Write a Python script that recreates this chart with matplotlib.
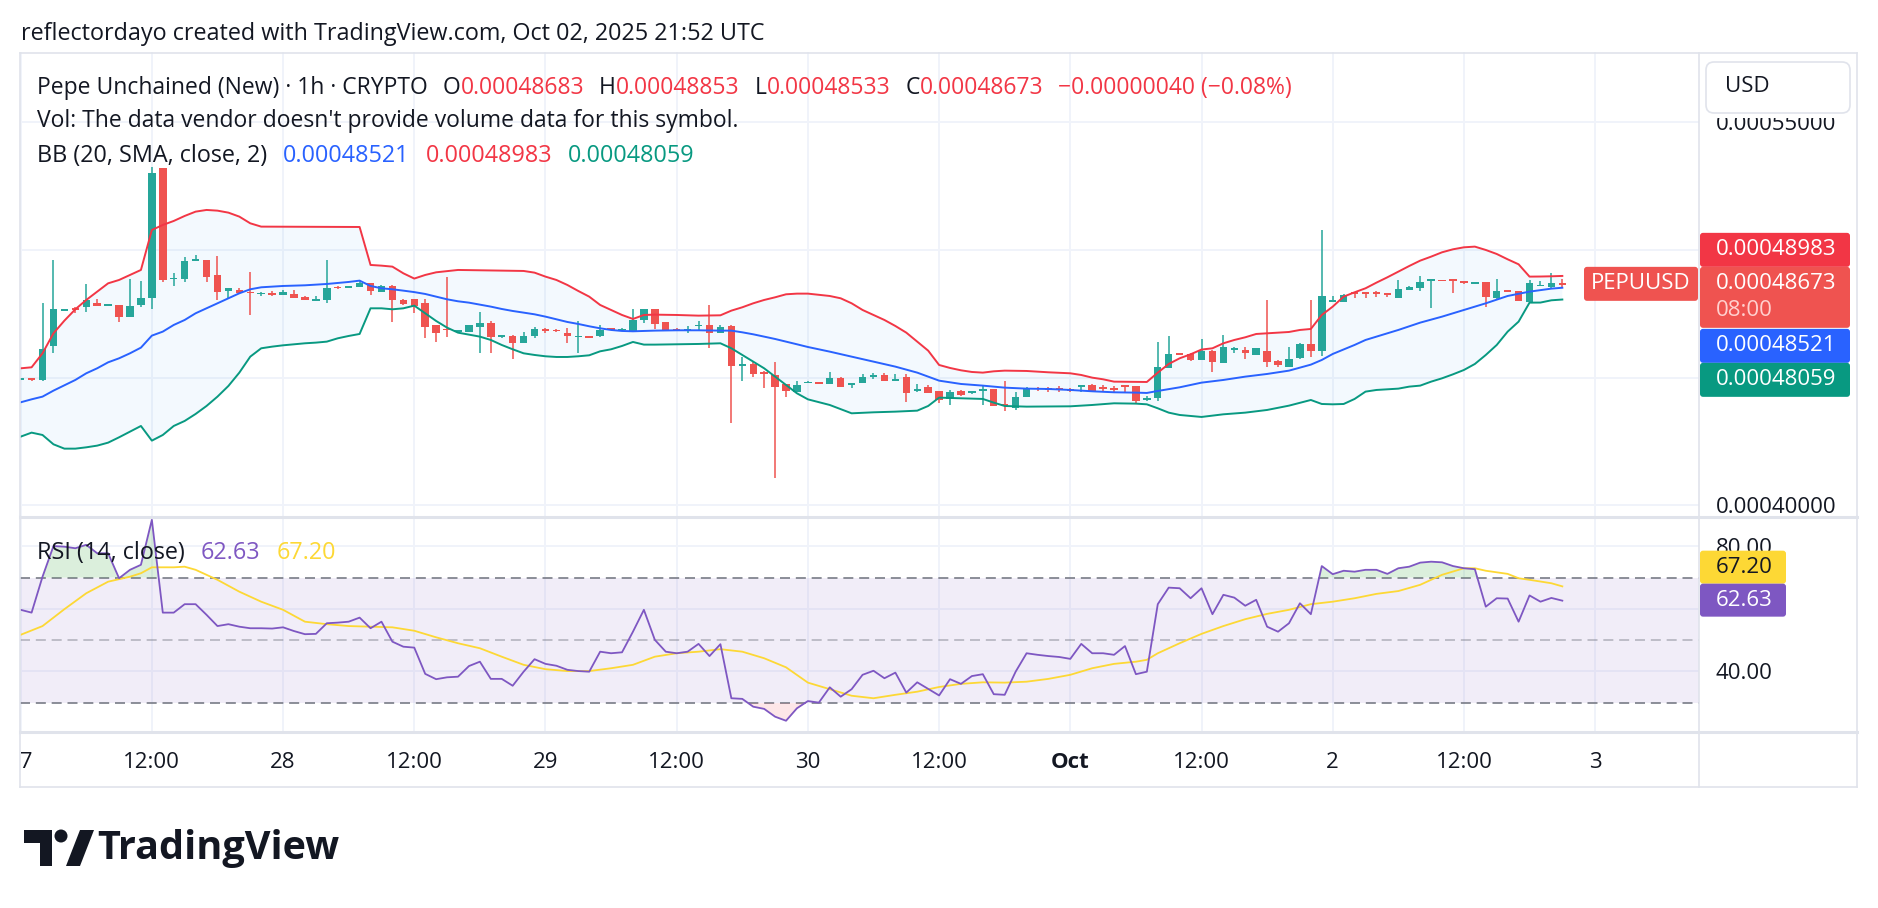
import numpy as np
import matplotlib.pyplot as plt
from matplotlib.patches import Rectangle, FancyBboxPatch, Polygon, Circle
from matplotlib.lines import Line2D
from matplotlib.transforms import IdentityTransform, Bbox, blended_transform_factory

plt.rcParams['font.family'] = ['Open Sans', 'DejaVu Sans']

# ---------------- data (prices in units of 1e-8) ----------------
SCALE = 1e-8
hours = np.arange(142)          # hourly candles from Sep 27 00:00 to Oct 02 21:00

opens = [44940, 44960, 44910, 46253, 47640, 47700, 47755, 47911, 47840, 47833,
         47389, 47846, 48107, 53198, 48851, 48851, 49582, 49608, 49021, 48394,
         48433, 48355, 48277, 48316, 48238, 48264, 48172, 48029, 48042, 48564,
         48538, 48538, 48694, 48368, 48590, 48042, 48068, 47911, 47050, 46906,
         46828, 46802, 46997, 47128, 46606, 46632, 46371, 46645, 46893, 46867,
         46762, 46593, 46619, 46632, 46919, 46867, 46841, 47258, 47676, 47167,
         46906, 46867, 47024, 47050, 46736, 47024, 45470, 45535, 45196, 45104,
         44739, 44452, 44791, 44830, 44739, 44974, 44700, 44778, 45039, 45104,
         44882, 45013, 44491, 44647, 44478, 44178, 44465, 44426, 44491, 44543,
         43955, 43799, 44256, 44595, 44582, 44582, 44543, 44648, 44700, 44634,
         44582, 44687, 44674, 44151, 44217, 45392, 45953, 45927, 45692, 46044,
         45587, 46084, 46084, 45901, 46058, 45653, 45405, 45770, 46318, 46057,
         47990, 47976, 48329, 48342, 48355, 48303, 48133, 48433, 48499, 48799,
         48825, 48838, 48760, 48694, 48747, 48107, 48420, 48381, 47976, 48590,
         48538, 48683]
highs = [44980, 44970, 47911, 49608, 47680, 47780, 48668, 48068, 47870, 47833,
         48864, 48786, 53264, 53198, 49086, 49713, 49804, 49608, 49765, 48499,
         48499, 49125, 48368, 48394, 48433, 48433, 48198, 48198, 49608, 48590,
         48590, 48799, 48720, 48629, 48629, 48068, 48068, 48068, 47050, 48929,
         46860, 47063, 47559, 47219, 46660, 46660, 46802, 46971, 46932, 46890,
         46932, 47232, 46619, 47063, 46919, 46932, 47676, 47690, 47690, 47167,
         46958, 47024, 47206, 47833, 47076, 47050, 45822, 45627, 45274, 45614,
         44739, 44882, 44882, 44830, 45222, 45039, 44778, 45130, 45170, 45170,
         45130, 45130, 44739, 44713, 44478, 44517, 44517, 44465, 44713, 44556,
         44869, 44426, 44634, 44648, 44648, 44673, 44582, 44687, 44752, 44700,
         44687, 44687, 44674, 44295, 46384, 46632, 45953, 45979, 46514, 46084,
         46671, 46214, 46214, 46149, 48042, 45680, 46188, 46345, 48042, 50783,
         48198, 48264, 48329, 48342, 48381, 48303, 48825, 48590, 48982, 48864,
         48825, 48864, 48760, 48734, 48747, 48864, 48420, 48381, 48825, 48799,
         49086, 48853]
lows = [44920, 44880, 44882, 45979, 47620, 47550, 47585, 47820, 47830, 47193,
        47389, 47781, 47689, 48760, 48603, 48760, 49582, 48760, 48042, 48068,
        48329, 47454, 48211, 48211, 48238, 48133, 48029, 48029, 47937, 48470,
        48538, 48538, 48238, 48368, 47193, 47846, 47546, 46540, 46410, 46580,
        46828, 46802, 45979, 45979, 46567, 45744, 46371, 46540, 46736, 46800,
        46345, 45979, 46580, 46610, 46867, 46855, 46841, 47154, 46906, 46854,
        46854, 46762, 46867, 46149, 46736, 43237, 44870, 45039, 44608, 41057,
        44256, 44426, 44791, 44778, 44739, 44647, 44608, 44778, 44961, 44856,
        44882, 44060, 44452, 44400, 44021, 43929, 44295, 44347, 43929, 43903,
        43707, 43734, 44230, 44465, 44439, 44426, 44439, 44426, 44491, 44478,
        44452, 44452, 43969, 44073, 44099, 45380, 45880, 45660, 45692, 45235,
        45561, 45953, 45744, 45901, 45405, 45431, 45405, 45745, 45796, 45861,
        47990, 47976, 48107, 48120, 48172, 48146, 48100, 48433, 48407, 47715,
        48786, 48329, 48668, 48694, 47781, 48090, 48368, 48016, 47950, 48590,
        48510, 48533]
closes = [44960, 44930, 46123, 47689, 47660, 47650, 48042, 47820, 47855, 47363,
          47820, 48133, 53003, 48825, 48916, 49569, 49648, 48930, 48368, 48499,
          48329, 48316, 48316, 48264, 48342, 48133, 48029, 48068, 48499, 48499,
          48577, 48694, 48407, 48590, 48042, 47872, 47807, 46971, 46762, 46867,
          46854, 47063, 47154, 46580, 46645, 46371, 46632, 46906, 46854, 46828,
          46645, 46632, 46580, 46867, 46867, 46906, 47258, 47676, 47102, 46867,
          46867, 46906, 47063, 46762, 46997, 45470, 45509, 45130, 45157, 44647,
          44478, 44713, 44830, 44778, 44974, 44647, 44778, 45013, 45091, 44882,
          44948, 44413, 44569, 44413, 44125, 44439, 44308, 44465, 44530, 43903,
          43916, 44230, 44569, 44556, 44530, 44543, 44504, 44687, 44491, 44582,
          44517, 44648, 44099, 44191, 45405, 45927, 45901, 45692, 46058, 45600,
          46188, 46136, 45979, 46149, 45627, 45509, 45731, 46318, 46057, 48198,
          48029, 48238, 48277, 48290, 48303, 48251, 48460, 48538, 48747, 48838,
          48786, 48799, 48721, 48734, 48172, 48381, 48368, 48016, 48694, 48629,
          48713, 48673]

# Bollinger Bands (20, SMA, close, 2)
upper_h = [0, 1, 2, 3, 4, 5, 6, 7, 8, 9, 10, 11, 12, 13, 14, 15, 16, 17, 18, 19, 20, 21, 22,
           31, 32, 33, 34, 35, 36, 37, 38, 40, 44, 46, 47, 48, 49, 50, 51, 52, 53, 54, 55,
           56, 57, 58, 60, 62, 64, 65, 66, 67, 68, 69, 70, 71, 72, 74, 75, 76, 77, 78, 79,
           80, 81, 82, 83, 84, 85, 86, 87, 88, 89, 90, 92, 94, 96, 97, 98, 99, 100, 103,
           104, 105, 106, 107, 108, 109, 110, 111, 112, 113, 114, 115, 116, 117, 118, 119,
           120, 121, 122, 123, 124, 125, 126, 127, 128, 129, 130, 131, 132, 133, 134, 135,
           136, 137, 138, 139, 140, 141]
upper_v = [45365, 45405, 45953, 46736, 47232, 47676, 48042, 48368, 48694, 48825, 49021,
           49217, 50783, 50979, 51136, 51332, 51501, 51567, 51540, 51462, 51306, 51044,
           50914, 50900, 49413, 49386, 49347, 49086, 48880, 49021, 49125, 49217, 49191,
           49178, 49112, 48956, 48825, 48629, 48394, 48172, 47846, 47650, 47454, 47298,
           47454, 47467, 47454, 47428, 47441, 47624, 47755, 47911, 48042, 48146, 48264,
           48290, 48290, 48198, 48107, 47911, 47650, 47454, 47258, 47023, 46762, 46410,
           46057, 45496, 45379, 45287, 45222, 45196, 45248, 45274, 45261, 45209, 45170,
           45104, 45000, 44935, 44843, 44830, 45196, 45535, 45757, 45914, 46100, 46149,
           46345, 46475, 46580, 46710, 46736, 46762, 46788, 46867, 46906, 47454, 47781,
           48172, 48342, 48499, 48721, 48930, 49151, 49373, 49582, 49739, 49909, 50026,
           50104, 50131, 50000, 49843, 49634, 49439, 48956, 48960, 48969, 48983]
basis_h = [0, 1, 2, 3, 4, 5, 6, 7, 8, 9, 10, 11, 12, 13, 14, 15, 16, 17, 18, 19, 20, 21, 22,
           23, 24, 26, 28, 30, 31, 32, 33, 34, 35, 36, 37, 38, 39, 40, 41, 42, 43, 44, 45,
           46, 47, 48, 49, 50, 51, 52, 53, 54, 55, 56, 58, 60, 62, 64, 65, 66, 67, 68, 69,
           70, 71, 72, 74, 76, 78, 80, 82, 84, 86, 88, 90, 92, 94, 96, 98, 100, 102, 103,
           104, 106, 108, 110, 112, 114, 116, 118, 119, 120, 122, 123, 124, 126, 128, 130,
           132, 134, 136, 138, 140, 141]
basis_v = [44034, 44151, 44256, 44491, 44700, 44909, 45170, 45366, 45600, 45757, 45953,
           46175, 46645, 46802, 47063, 47258, 47520, 47716, 47911, 48107, 48303, 48460,
           48538, 48564, 48590, 48616, 48668, 48747, 48799, 48590, 48499, 48460, 48407,
           48350, 48277, 48172, 48068, 47990, 47937, 47859, 47781, 47689, 47611, 47546,
           47480, 47389, 47285, 47180, 47102, 47011, 46932, 46867, 46828, 46815, 46841,
           46854, 46854, 46841, 46841, 46775, 46697, 46606, 46514, 46410, 46306, 46200,
           46018, 45822, 45627, 45431, 45196, 44882, 44752, 44687, 44608, 44569, 44556,
           44517, 44465, 44426, 44413, 44400, 44478, 44621, 44804, 44909, 45039, 45144,
           45274, 45509, 45692, 45927, 46280, 46475, 46606, 46867, 47154, 47389, 47650,
           47911, 48198, 48368, 48486, 48521]
lower_h = [0, 1, 2, 3, 4, 5, 6, 7, 8, 9, 10, 11, 12, 13, 14, 15, 16, 17, 18, 19, 20, 21, 22,
           23, 24, 26, 27, 28, 29, 30, 31, 32, 33, 34, 35, 36, 37, 38, 39, 40, 41, 42, 43,
           44, 45, 46, 47, 48, 49, 50, 51, 52, 53, 54, 55, 56, 57, 58, 60, 62, 64, 65, 66,
           67, 68, 69, 70, 71, 72, 74, 76, 78, 80, 82, 83, 84, 86, 88, 89, 90, 92, 96, 98,
           100, 102, 103, 104, 105, 106, 107, 108, 110, 112, 114, 116, 118, 119, 120, 121,
           122, 123, 124, 126, 127, 128, 129, 130, 131, 132, 133, 134, 135, 136, 137, 138,
           139, 140, 141]
lower_v = [42689, 42846, 42754, 42389, 42219, 42219, 42271, 42337, 42454, 42663, 42885,
           43107, 42533, 42754, 43107, 43303, 43577, 43890, 44256, 44674, 45196, 45822,
           46149, 46214, 46266, 46345, 46371, 46410, 46540, 46632, 46710, 47715, 47715,
           47676, 47715, 47820, 47520, 47219, 46958, 46762, 46684, 46606, 46475, 46279,
           46110, 45953, 45888, 45836, 45809, 45809, 45836, 45875, 46031, 46110, 46240,
           46397, 46293, 46293, 46306, 46319, 46345, 46149, 45888, 45627, 45365, 45039,
           44713, 44386, 44150, 43929, 43603, 43642, 43668, 43707, 43890, 44217, 44191,
           44165, 44021, 43890, 43864, 43877, 43929, 43995, 43982, 43955, 43799, 43629,
           43538, 43499, 43460, 43564, 43629, 43734, 43903, 44125, 43968, 43955, 43968,
           44165, 44452, 44517, 44569, 44648, 44687, 44843, 44974, 45130, 45300, 45535,
           45888, 46279, 46802, 47193, 47937, 47940, 48029, 48059]

# RSI (14, close) and its moving average
rsi = [59.7, 58.8, 70.3, 80.1, 79.9, 79.4, 80.5, 77.8, 77.8, 69.8,
       72.5, 74.1, 88.5, 58.8, 58.8, 61.5, 61.5, 58.1, 54.5, 55.1,
       54.3, 53.8, 53.8, 53.7, 54.1, 52.9, 51.9, 52.0, 55.4, 55.6,
       55.9, 57.2, 53.8, 55.9, 49.5, 47.9, 47.6, 39.2, 37.5, 38.1,
       38.3, 41.7, 43.1, 37.6, 37.6, 35.4, 39.9, 43.9, 42.4, 41.8,
       40.5, 40.1, 39.9, 46.3, 45.8, 46.1, 52.7, 59.7, 50.1, 46.3,
       45.8, 46.3, 48.8, 44.9, 48.7, 31.4, 31.2, 28.7, 28.0, 25.5,
       24.2, 28.2, 30.5, 30.0, 34.9, 31.9, 34.3, 38.9, 40.2, 37.8,
       39.6, 33.2, 36.5, 34.4, 32.3, 37.5, 36.0, 38.5, 39.1, 32.7,
       32.5, 39.9, 45.8, 45.3, 44.9, 44.6, 44.0, 48.8, 45.8, 45.8,
       45.3, 48.1, 39.1, 39.9, 61.5, 66.8, 66.6, 63.4, 66.6, 58.3,
       64.5, 63.6, 61.0, 62.9, 54.3, 52.7, 55.4, 61.8, 58.3, 73.7,
       71.1, 72.2, 71.9, 72.5, 72.5, 71.2, 73.0, 73.5, 74.8, 75.1,
       74.9, 73.7, 73.0, 72.7, 60.7, 63.4, 63.3, 55.9, 64.3, 62.3,
       63.5, 62.63]
rsi_ma_h = [0, 2, 4, 6, 8, 9, 10, 11, 12, 14, 15, 16, 18, 20, 22, 24, 26, 28, 30, 32, 34,
            36, 38, 40, 42, 44, 46, 48, 50, 52, 54, 56, 58, 60, 62, 64, 66, 68, 70, 72, 74,
            76, 78, 80, 82, 84, 86, 88, 90, 92, 94, 96, 98, 100, 102, 103, 104, 106, 108,
            110, 112, 114, 116, 118, 120, 122, 124, 126, 128, 130, 132, 133, 134, 136, 137,
            138, 140, 141]
rsi_ma = [51.7, 54.5, 59.9, 65.0, 68.7, 69.5, 70.3, 71.4, 73.3, 73.3, 73.5, 72.5, 69.3,
          65.5, 62.3, 59.7, 55.9, 55.1, 54.5, 54.3, 54.1, 53.0, 50.9, 49.0, 47.4, 44.7,
          42.1, 40.7, 40.1, 40.1, 41.0, 42.1, 44.7, 45.8, 46.3, 47.1, 46.3, 44.2, 41.3,
          36.4, 34.3, 32.2, 31.4, 32.5, 33.5, 35.0, 36.0, 36.5, 36.4, 36.7, 37.6, 38.9,
          41.0, 42.4, 43.1, 43.7, 45.8, 49.0, 52.0, 54.5, 56.7, 58.4, 59.7, 61.5, 62.3,
          63.4, 64.8, 65.7, 67.7, 70.9, 73.0, 73.0, 72.2, 71.2, 69.8, 69.3, 68.2, 67.20]

tick_hours = [0, 12, 24, 36, 48, 60, 72, 84, 96, 108, 120, 132, 144]
tick_labels = ['27', '12:00', '28', '12:00', '29', '12:00', '30', '12:00', 'Oct',
               '12:00', '2', '12:00', '3']
price_ticks = [40000, 45000, 50000, 55000]
price_labelled = [40000, 55000]      # the others sit under the value tags
rsi_ticks = [40, 60, 80]
rsi_labelled = [40, 80]

# ---------------- colours ----------------
UP, DOWN = '#26a69a', '#ef5350'
BB_UP, BB_MID, BB_LO = '#f23645', '#2962ff', '#089981'
RSI_C, MA_C = '#7e57c2', '#fdd835'
TXT, GRID, BORDER = '#131722', '#f0f3fa', '#e0e3eb'

W, H = 1878, 908
PX = IdentityTransform()
fig = plt.figure(figsize=(W / 100, H / 100), dpi=100)
fig.patch.set_facecolor('white')


def pane(x0, y0, x1, y1):
    return fig.add_axes([x0 / W, 1 - y1 / H, (x1 - x0) / W, (y1 - y0) / H])


def hline(x0, x1, y, color=BORDER, lw=1.5):
    fig.add_artist(Line2D([x0, x1], [H - y, H - y], transform=PX, color=color, lw=lw))


def vline(x, y0, y1, color=BORDER, lw=1.5):
    fig.add_artist(Line2D([x, x], [H - y0, H - y1], transform=PX, color=color, lw=lw))


ax = pane(20, 52, 1699, 517)
ax_rsi = pane(20, 517, 1699, 732)

for a in (ax, ax_rsi):
    a.set_xlim(-0.06, 153.5)
    a.set_xticks(tick_hours)
    a.tick_params(axis='x', length=0, labelbottom=False)
    a.grid(True, color=GRID, lw=1.4, zorder=0)
    a.set_axisbelow(True)
    for s in a.spines.values():
        s.set_visible(False)
    a.yaxis.tick_right()
    a.tick_params(axis='y', length=0, pad=12, labelsize=16, labelcolor=TXT)

# ---------------- main pane ----------------
o = np.array(opens) * SCALE
hi = np.array(highs) * SCALE
lo = np.array(lows) * SCALE
c = np.array(closes) * SCALE
col = np.where(c >= o, UP, DOWN)

ax.set_ylim(39542 * SCALE, 57753 * SCALE)
ax.set_yticks(np.array(price_ticks) * SCALE)
ax.yaxis.set_major_formatter(
    lambda v, p: f'{v:.8f}' if round(v / SCALE) in price_labelled else '')

ub = np.array(upper_v) * SCALE
lb = np.array(lower_v) * SCALE
ax.fill(np.r_[upper_h, lower_h[::-1]], np.r_[ub, lb[::-1]], color='#2196f3', alpha=0.05,
        lw=0, zorder=1)

ax.vlines(hours, lo, hi, colors=col, lw=1.1, zorder=3)
body_h = np.abs(c - o)
min_h = 70 * SCALE
body_lo = np.where(body_h < min_h, (o + c) / 2 - min_h / 2, np.minimum(o, c))
ax.bar(hours, np.maximum(body_h, min_h), bottom=body_lo, width=0.68, color=col,
       lw=0, zorder=4)

ax.plot(upper_h, ub, color=BB_UP, lw=1.4, zorder=5)
ax.plot(basis_h, np.array(basis_v) * SCALE, color=BB_MID, lw=1.4, zorder=5)
ax.plot(lower_h, lb, color=BB_LO, lw=1.4, zorder=5)

# ---------------- RSI pane ----------------
r = np.array(rsi)
ax_rsi.set_ylim(20.6, 89.4)
ax_rsi.set_yticks(rsi_ticks)
ax_rsi.yaxis.set_major_formatter(
    lambda v, p: f'{v:.2f}' if round(v) in rsi_labelled else '')
ax_rsi.axhspan(30, 70, color=RSI_C, alpha=0.1, lw=0, zorder=1)
for lvl, al in ((70, 1.0), (50, 0.5), (30, 1.0)):
    ax_rsi.axhline(lvl, color='#787b86', lw=1.2, ls=(0, (6, 3.5)), alpha=al, zorder=2)
ax_rsi.fill_between(hours, r, 70, where=r > 70, interpolate=True, color='#4caf50',
                    alpha=0.2, lw=0, zorder=2)
ax_rsi.fill_between(hours, r, 30, where=r < 30, interpolate=True, color='#f23645',
                    alpha=0.12, lw=0, zorder=2)
ax_rsi.plot(rsi_ma_h, rsi_ma, color=MA_C, lw=1.3, zorder=4)
ax_rsi.plot(hours, r, color=RSI_C, lw=1.3, zorder=5)

# time axis labels
clip = Bbox.from_extents(21, 0, 1857, H)
tr = blended_transform_factory(ax_rsi.transData, PX)
for hh, lab in zip(tick_hours, tick_labels):
    t = ax_rsi.text(hh, H - 762, lab, transform=tr, ha='center', va='center',
                    fontsize=16, color=TXT, fontweight='bold' if lab == 'Oct' else 'normal',
                    clip_on=True)
    t.set_clip_box(clip)

# ---------------- frame lines ----------------
hline(20, 1857, 53, lw=1.2)
hline(20, 1857, 787, lw=1.2)
vline(20, 53, 787, lw=1.2)
vline(1857, 53, 787, lw=1.2)
vline(1699, 53, 787, lw=1.2)
hline(20, 1857, 517, lw=2.2)
hline(20, 1857, 732, lw=2.2)

# ---------------- header texts ----------------
renderer = fig.canvas.get_renderer()


def text_row(x, y, parts, size):
    for s, color, gap in parts:
        t = fig.text(x + gap, H - y, s, transform=PX, color=color, fontsize=size,
                     va='center', ha='left')
        x = t.get_window_extent(renderer).x1


fig.text(21, H - 34, 'reflectordayo created with TradingView.com, Oct 02, 2025 21:52 UTC',
         transform=PX, fontsize=16.8, color=TXT, va='center')

last = len(closes) - 1
chg = closes[last] - closes[last - 1]
pct = chg / closes[last - 1] * 100
fmt = lambda v: f'{v * SCALE:.8f}'
RED = '#f23645'
text_row(37, 88, [('Pepe Unchained (New) · 1h · CRYPTO', TXT, 0),
                  ('O', TXT, 15), (fmt(opens[last]), RED, 0),
                  ('H', TXT, 15), (fmt(highs[last]), RED, 0),
                  ('L', TXT, 15), (fmt(lows[last]), RED, 0),
                  ('C', TXT, 15), (fmt(closes[last]), RED, 0),
                  (f'\u2212{abs(chg) * SCALE:.8f} (\u2212{abs(pct):.2f}%)', RED, 15)], 16.5)
text_row(37, 121, [("Vol: The data vendor doesn't provide volume data for this symbol.",
                    TXT, 0)], 16.5)
text_row(37, 156, [('BB (20, SMA, close, 2)', TXT, 0),
                   (fmt(basis_v[-1]), BB_MID, 16), (fmt(upper_v[-1]), BB_UP, 16),
                   (fmt(lower_v[-1]), BB_LO, 16)], 16.8)
text_row(37, 553, [('RSI (14, close)', TXT, 0),
                   (f'{rsi[-1]:.2f}', RSI_C, 16), (f'{rsi_ma[-1]:.2f}', MA_C, 16)], 16.8)

# ---------------- price scale labels ----------------
fig.add_artist(Rectangle((1700, H - 118), 156, 64, transform=PX, fc='white', ec='none'))
fig.add_artist(FancyBboxPatch((1706, H - 113), 144, 51, transform=PX,
                              boxstyle='round,pad=0,rounding_size=8', fc='white',
                              ec=BORDER, lw=1.2))
fig.text(1725, H - 87, 'USD', transform=PX, fontsize=16, color=TXT, va='center')


def y_px(a, v):
    return a.transData.transform((0, v))[1]


def tag(y_top, h, color, lines, tcolors):
    fig.add_artist(FancyBboxPatch((1700, H - y_top - h), 150, h, transform=PX,
                                  boxstyle='round,pad=0,rounding_size=3', fc=color,
                                  ec='none'))
    for i, (s, tc) in enumerate(zip(lines, tcolors)):
        fig.text(1716, H - y_top - 17 - 27 * i, s, transform=PX, fontsize=16, color=tc,
                 va='center')


yc = H - y_px(ax, closes[last] * SCALE)
tag(yc - 51, 34, BB_UP, [fmt(upper_v[-1])], ['white'])
tag(yc - 17, 61, DOWN, [fmt(closes[last]), '08:00'], ['white', '#ffd0ce'])
tag(yc + 45, 34, BB_MID, [fmt(basis_v[-1])], ['white'])
tag(yc + 79, 34, BB_LO, [fmt(lower_v[-1])], ['white'])
fig.add_artist(FancyBboxPatch((1584, H - yc - 17), 114, 34, transform=PX,
                              boxstyle='round,pad=0,rounding_size=3', fc=DOWN, ec='none'))
fig.text(1641, H - yc, 'PEPUUSD', transform=PX, fontsize=16, color='white',
         ha='center', va='center')

yr = H - y_px(ax_rsi, rsi[-1])
for y_top, colr, val, tc in ((yr - 50, MA_C, rsi_ma[-1], TXT),
                             (yr - 17, RSI_C, rsi[-1], 'white')):
    fig.add_artist(FancyBboxPatch((1700, H - y_top - 33), 86, 33, transform=PX,
                                  boxstyle='round,pad=0,rounding_size=3', fc=colr,
                                  ec='none'))
    fig.text(1716, H - y_top - 16.5, f'{val:.2f}', transform=PX, fontsize=16, color=tc,
             va='center')

# ---------------- logo ----------------
fig.add_artist(Polygon([(24, H - 830), (52, H - 830), (52, H - 866), (40, H - 866),
                        (40, H - 843), (24, H - 843)], closed=True, transform=PX,
                       fc='#131722', ec='none'))
fig.add_artist(Circle((61, H - 836), 6.5, transform=PX, fc='#131722', ec='none'))
fig.add_artist(Polygon([(66, H - 866), (80, H - 830), (94, H - 830), (80, H - 866)],
                       closed=True, transform=PX, fc='#131722', ec='none'))
fig.text(97, H - 848, 'TradingView', transform=PX, fontsize=28.5, fontweight='bold',
         color='#131722', va='center')

fig.savefig('out.png', dpi=100, facecolor='white')
